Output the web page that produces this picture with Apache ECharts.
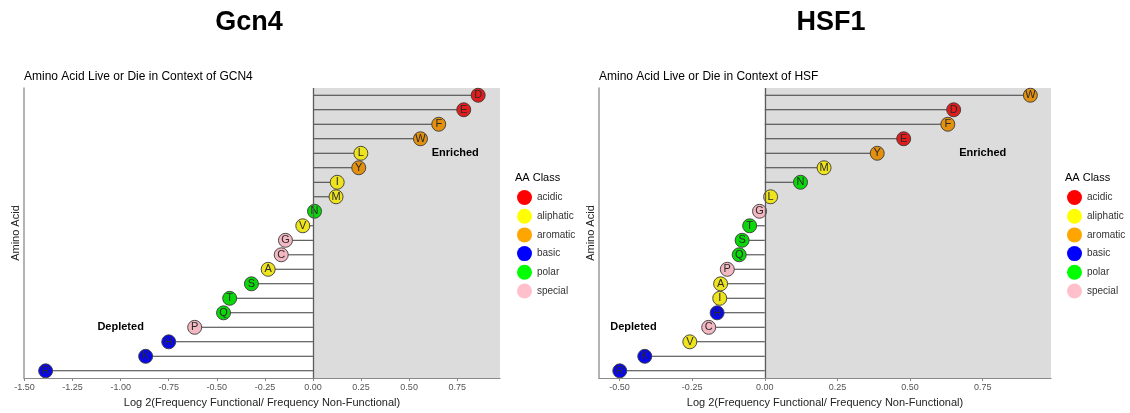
<!DOCTYPE html>
<html>
<head>
<meta charset="utf-8">
<script src="https://cdn.jsdelivr.net/npm/echarts@6/dist/echarts.min.js"></script>
<style>
    html, body { margin: 0; padding: 0; background: #fff; }
    #chart { width: 1130px; height: 413px; }
</style>
</head>
<body>
<div id="chart"></div>
<script>
    // 数据 (bottom -> top)
    var gcnAcids = ['R','K','H','P','Q','T','S','A','C','G','V','N','M','I','Y','L','W','F','E','D'];
    var gcnValues = [-1.39,-0.87,-0.75,-0.615,-0.465,-0.433,-0.32,-0.233,-0.165,-0.143,-0.053,0.008,0.12,0.126,0.238,0.249,0.559,0.654,0.784,0.859];
    var hsfAcids = ['R','K','V','C','H','I','A','P','Q','S','T','G','L','N','M','Y','E','F','D','W'];
    var hsfValues = [-0.499,-0.413,-0.258,-0.193,-0.164,-0.155,-0.152,-0.129,-0.088,-0.078,-0.052,-0.018,0.020,0.123,0.204,0.387,0.478,0.630,0.650,0.914];

    var classNames = ['acidic','aliphatic','aromatic','basic','polar','special'];
    var classColors = ['#ff0000','#ffff00','#ffa500','#0000ff','#00ff00','#ffc0cb'];
    var pointColors = ['#e01c1c','#eee41e','#e3900f','#0808e8','#0ad80a','#f4b8c2'];
    var classMembers = [['D','E'],['A','V','L','I','M'],['F','W','Y'],['R','K','H'],['N','Q','S','T'],['P','C','G']];

    var gcnTicks = [-1.5,-1.25,-1,-0.75,-0.5,-0.25,0,0.25,0.5,0.75];
    var hsfTicks = [-0.5,-0.25,0,0.25,0.5,0.75];
    var gcnRange = [-1.5025, 0.9725];
    var hsfRange = [-0.5705, 0.985];

    // Enriched / Depleted 标注 [x, row]
    var gcnNotes = [['Enriched', 0.74, 15], ['Depleted', -1.0, 3]];
    var hsfNotes = [['Enriched', 0.75, 15], ['Depleted', -0.452, 3]];

    var FONT = '"Liberation Sans", Arial, sans-serif';

    function classOf(aa) {
        for (var i = 0; i < classMembers.length; i++) {
            if (classMembers[i].indexOf(aa) >= 0) return i;
        }
        return -1;
    }

    function makeX(idx, range, ticks) {
        return {
            type: 'value', gridIndex: idx, min: range[0], max: range[1], z: 5,
            splitLine: {show: false},
            axisLine: {show: true, onZero: false, lineStyle: {color: '#8a8a8a', width: 1.2}},
            axisTick: {show: true, length: 3, customValues: ticks, lineStyle: {color: '#8a8a8a'}},
            axisLabel: {
                customValues: ticks, fontSize: 9, color: '#555', margin: 5, fontFamily: FONT,
                formatter: function (v) { return v.toFixed(2); }
            },
            name: 'Log 2(Frequency Functional/ Frequency Non-Functional)',
            nameLocation: 'middle', nameGap: 17,
            nameTextStyle: {fontSize: 11, color: '#222', fontFamily: FONT}
        };
    }

    function makeY(idx, acids) {
        return {
            type: 'category', gridIndex: idx, data: acids,
            axisLine: {show: true, onZero: false, lineStyle: {color: '#9a9a9a', width: 1.5}},
            axisTick: {show: false},
            axisLabel: {show: false},
            splitLine: {show: false},
            name: 'Amino Acid', nameLocation: 'middle', nameRotate: 90, nameGap: 3,
            nameTextStyle: {fontSize: 11, color: '#222', fontFamily: FONT}
        };
    }

    function makeSeries(idx, acids, values, range, notes) {
        var list = [];
        list.push({
            type: 'bar', xAxisIndex: idx, yAxisIndex: idx, silent: true,
            data: values, barWidth: 1, z: 2,
            itemStyle: {color: '#3c3c3c'},
            markArea: {
                silent: true,
                itemStyle: {color: '#dcdcdc'},
                data: [[{xAxis: 0}, {xAxis: range[1]}]]
            },
            markLine: {
                silent: true, symbol: ['none','none'],
                label: {show: false},
                lineStyle: {color: '#5c5c5c', width: 1.3, type: 'solid'},
                data: [{xAxis: 0}]
            },
            markPoint: {
                symbol: 'circle', symbolSize: 0, silent: true,
                label: {
                    show: true, position: 'inside', formatter: '{b}',
                    fontSize: 11, fontWeight: 'bold', color: '#000', fontFamily: FONT
                },
                data: notes.map(function (n) {
                    return {name: n[0], coord: [n[1], n[2]]};
                })
            }
        });
        for (var c = 0; c < classNames.length; c++) {
            var pts = [];
            for (var i = 0; i < acids.length; i++) {
                if (classOf(acids[i]) === c) pts.push([values[i], acids[i]]);
            }
            list.push({
                name: classNames[c], type: 'scatter', xAxisIndex: idx, yAxisIndex: idx,
                data: pts, symbolSize: 14, z: 4,
                itemStyle: {color: pointColors[c], opacity: 1, borderColor: '#3a3a3a', borderWidth: 0.9},
                label: {
                    show: true, position: 'inside', fontSize: 11, color: '#2a2a2a', fontFamily: FONT,
                    formatter: function (p) { return p.value[1]; }
                },
                emphasis: {disabled: true}
            });
        }
        return list;
    }

    function makeLegend(left) {
        return {
            orient: 'vertical', left: left, top: 190, padding: 0,
            itemWidth: 15, itemHeight: 15, itemGap: 3.7,
            icon: 'circle', selectedMode: false,
            textStyle: {fontSize: 10, color: '#333', fontFamily: FONT},
            data: classNames.map(function (n, i) {
                return {name: n, itemStyle: {color: classColors[i], opacity: 1, borderWidth: 0}};
            })
        };
    }

    function txt(x, y, text, font, align) {
        return {
            type: 'text', x: x, y: y,
            style: {text: text, font: font, fill: '#000', textAlign: align || 'left', textVerticalAlign: 'middle'}
        };
    }

    var myChart = echarts.init(document.getElementById('chart'));
    var option = {
        animation: false,
        grid: [
            {left: 24, top: 88, width: 476, height: 294},
            {left: 599, top: 88, width: 452, height: 294}
        ],
        xAxis: [makeX(0, gcnRange, gcnTicks), makeX(1, hsfRange, hsfTicks)],
        yAxis: [makeY(0, gcnAcids), makeY(1, hsfAcids)],
        legend: [makeLegend(517), makeLegend(1067)],
        graphic: [
            txt(249, 23, 'Gcn4', 'bold 27px "Liberation Sans", Arial, sans-serif', 'center'),
            txt(831, 23, 'HSF1', 'bold 27px "Liberation Sans", Arial, sans-serif', 'center'),
            txt(24, 77, 'Amino Acid Live or Die in Context of GCN4', '12px "Liberation Sans", Arial, sans-serif'),
            txt(599, 77, 'Amino Acid Live or Die in Context of HSF', '12px "Liberation Sans", Arial, sans-serif'),
            txt(515, 178, 'AA Class', '11px "Liberation Sans", Arial, sans-serif'),
            txt(1065, 178, 'AA Class', '11px "Liberation Sans", Arial, sans-serif')
        ],
        series: makeSeries(0, gcnAcids, gcnValues, gcnRange, gcnNotes)
            .concat(makeSeries(1, hsfAcids, hsfValues, hsfRange, hsfNotes))
    };
    myChart.setOption(option);
</script>
</body>
</html>
